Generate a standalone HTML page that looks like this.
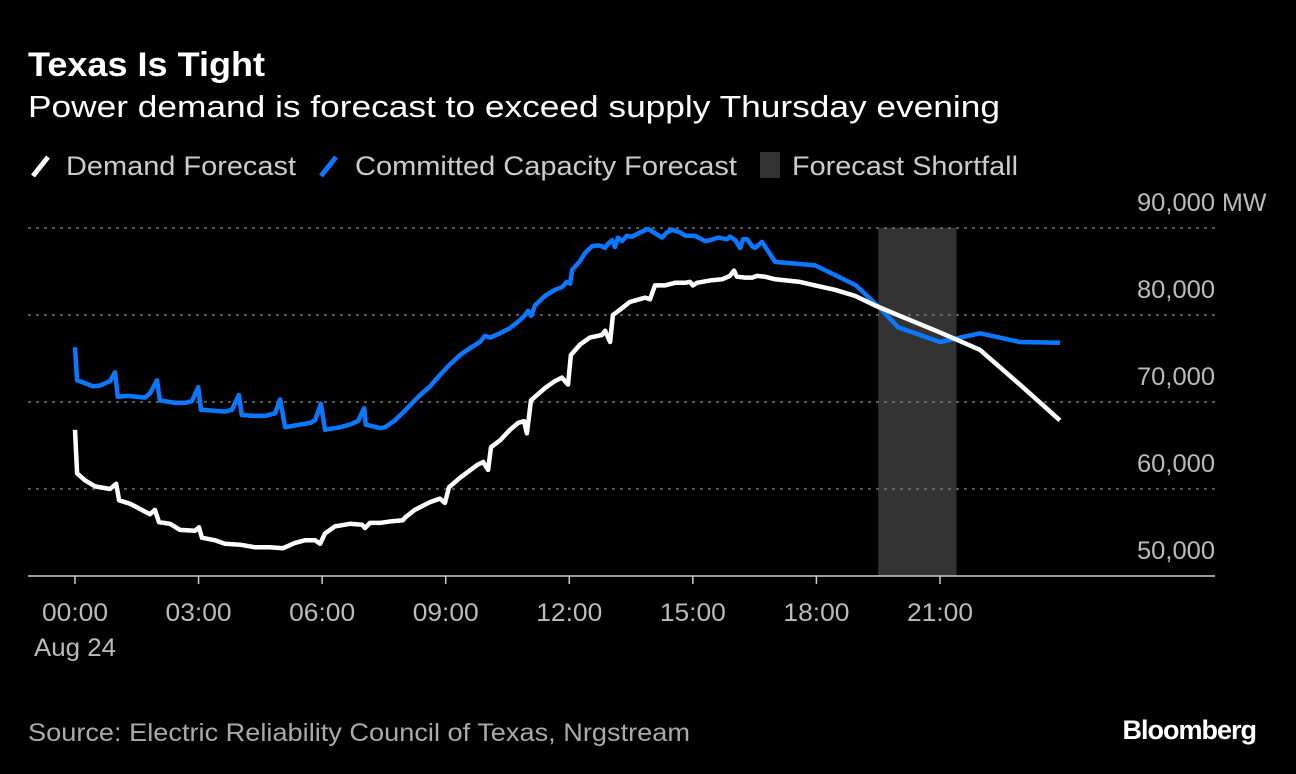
<!DOCTYPE html>
<html><head><meta charset="utf-8"><style>
body{margin:0;background:#000;width:1296px;height:774px;overflow:hidden;font-family:"Liberation Sans",sans-serif;color:#fff}
svg{position:absolute;left:0;top:0}
</style></head><body>
<svg width="1296" height="774">
<text x="28" y="76" font-size="34" font-weight="bold" fill="#fff" textLength="237" lengthAdjust="spacingAndGlyphs">Texas Is Tight</text>
<text x="28" y="117" font-size="31" fill="#fff" textLength="972" lengthAdjust="spacingAndGlyphs">Power demand is forecast to exceed supply Thursday evening</text>
<g>
<line x1="33" y1="176" x2="48" y2="157" stroke="#fff" stroke-width="5"/>
<text x="66" y="175" font-size="27" fill="#ccc" textLength="230" lengthAdjust="spacingAndGlyphs">Demand Forecast</text>
<line x1="321" y1="176" x2="336" y2="157" stroke="#0a78ff" stroke-width="5"/>
<text x="355" y="175" font-size="27" fill="#ccc" textLength="382" lengthAdjust="spacingAndGlyphs">Committed Capacity Forecast</text>
<rect x="760" y="152" width="20" height="26" fill="#333"/>
<text x="792" y="175" font-size="27" fill="#ccc" textLength="226" lengthAdjust="spacingAndGlyphs">Forecast Shortfall</text>
</g>
<g id="plot"></g>
<text x="28" y="741" font-size="25" fill="#aaa" textLength="662" lengthAdjust="spacingAndGlyphs">Source: Electric Reliability Council of Texas, Nrgstream</text>
<text x="1256" y="739" font-size="27" font-weight="bold" fill="#fff" text-anchor="end" letter-spacing="-1">Bloomberg</text>
</svg>
<script>
const yTicks=[50000,60000,70000,80000,90000];
const yTickLabels=["50,000","60,000","70,000","80,000","90,000"];
const xTicks=[0,3,6,9,12,15,18,21];
const xTickLabels=["00:00","03:00","06:00","09:00","12:00","15:00","18:00","21:00"];
const shortfall=[19.5,21.4];
const demandHours=[0,0.05,0.24,0.49,0.85,1.0,1.07,1.34,1.70,1.82,1.94,2.04,2.31,2.55,2.91,3.01,3.08,3.40,3.64,4.01,4.37,4.73,5.05,5.34,5.58,5.83,5.95,6.07,6.31,6.68,6.97,7.04,7.16,7.40,7.70,7.96,8.01,8.25,8.62,8.86,8.98,9.08,9.35,9.78,9.91,10.03,10.10,10.32,10.56,10.76,10.90,10.97,11.07,11.41,11.65,11.82,11.97,12.04,12.26,12.50,12.79,12.87,12.99,13.06,13.23,13.47,13.84,13.96,14.08,14.32,14.57,14.81,14.93,15.00,15.10,15.46,15.71,15.90,16.00,16.07,16.27,16.44,16.56,16.75,17.0,17.60,17.97,18.45,18.94,19.42,20.03,21.0,21.97,22.94,23.91];
const demandMW=[66.8,61.8,61.0,60.3,60.0,60.6,58.7,58.3,57.4,57.1,57.6,56.2,56.0,55.3,55.2,55.6,54.4,54.1,53.7,53.6,53.3,53.3,53.2,53.8,54.1,54.1,53.7,54.9,55.7,56.0,55.9,55.5,56.1,56.1,56.3,56.4,56.7,57.6,58.5,58.9,58.4,60.2,61.3,62.8,63.1,62.2,64.8,65.6,66.8,67.6,67.8,66.4,70.2,71.6,72.4,72.8,72.0,75.4,76.6,77.4,77.7,78.2,76.9,80.0,80.6,81.5,82.0,81.8,83.4,83.4,83.7,83.7,83.8,83.4,83.7,84.0,84.1,84.5,85.1,84.4,84.3,84.3,84.5,84.4,84.1,83.8,83.4,82.9,82.2,81.1,79.9,78.0,76.0,72.0,67.9];
const capHours=[0,0.05,0.17,0.44,0.61,0.85,0.97,1.04,1.29,1.70,1.82,1.99,2.06,2.43,2.67,2.84,2.99,3.06,3.40,3.64,3.81,3.98,4.05,4.37,4.61,4.86,4.98,5.10,5.46,5.71,5.83,5.97,6.07,6.44,6.68,6.87,7.02,7.06,7.40,7.53,7.77,8.01,8.25,8.38,8.62,8.86,9.10,9.35,9.59,9.83,9.95,10.08,10.32,10.56,10.80,10.93,11.00,11.07,11.17,11.41,11.65,11.82,11.94,12.02,12.07,12.26,12.38,12.55,12.70,12.79,12.87,12.94,13.04,13.11,13.18,13.28,13.40,13.52,13.60,13.72,13.91,14.08,14.25,14.37,14.49,14.69,14.83,15.05,15.30,15.42,15.61,15.83,15.90,16.03,16.15,16.22,16.32,16.44,16.51,16.68,17.00,17.97,18.45,18.96,19.54,19.98,21.00,21.97,22.94,23.91];
const capMW=[76.3,72.5,72.3,71.8,71.9,72.4,73.4,70.6,70.7,70.5,71.0,72.5,70.2,69.9,69.9,70.1,71.7,69.1,69.0,68.9,69.1,70.8,68.5,68.4,68.4,68.7,70.3,67.1,67.4,67.6,67.9,69.8,66.8,67.1,67.4,67.8,69.3,67.4,67.0,67.1,67.9,69.0,70.2,70.8,71.8,73.1,74.3,75.4,76.2,76.9,77.6,77.4,77.9,78.5,79.4,80.0,80.5,79.9,81.1,82.2,82.9,83.2,83.8,83.6,85.2,86.2,87.1,87.9,88.0,87.9,87.7,88.2,88.6,87.8,88.9,88.5,89.1,89.0,89.2,89.5,89.9,89.4,88.9,89.5,89.8,89.5,89.1,89.1,88.5,88.6,88.9,88.7,89.0,88.6,87.7,88.7,88.7,87.9,87.7,88.4,86.1,85.7,84.6,83.4,80.8,78.6,76.9,77.9,76.9,76.8];

const NS="http://www.w3.org/2000/svg";
const plot=document.getElementById('plot');
function xs(h){return 75+h*41.19;}
function ys(v){return 576-(v-50000)*0.0087;}
function mk(tag,attrs){const e=document.createElementNS(NS,tag);for(const k in attrs)e.setAttribute(k,attrs[k]);plot.appendChild(e);return e;}

const sf=mk('rect',{x:xs(shortfall[0]),y:ys(90000),width:xs(shortfall[1])-xs(shortfall[0]),height:ys(50000)-ys(90000),fill:'#333'});



yTicks.forEach((v,i)=>{
  if(i>0){
    const g=mk('line',{x1:28,x2:1215,y1:ys(v),y2:ys(v),stroke:'#777','stroke-width':1.5,'stroke-dasharray':'3,5'});
    
    
  }
  const t=mk('text',{x:1215,y:ys(v)-17,'font-size':25,fill:'#bbb','text-anchor':'end',textLength:78,lengthAdjust:'spacingAndGlyphs'});
  t.textContent=yTickLabels[i];
  
  
  if(i===yTicks.length-1){
    const u=mk('text',{x:1222,y:ys(v)-17,'font-size':25,fill:'#bbb'});
    u.textContent='MW';
    
    
  }
});
const base=mk('line',{x1:28,x2:1215,y1:576,y2:576,stroke:'#ccc','stroke-width':1.5});


xTicks.forEach((h,i)=>{
  const tk=mk('line',{x1:xs(h),x2:xs(h),y1:576,y2:584,stroke:'#ccc','stroke-width':1.5});
  
  
  const t=mk('text',{x:xs(h),y:621,'font-size':25,fill:'#bbb','text-anchor':'middle',textLength:66,lengthAdjust:'spacingAndGlyphs'});
  t.textContent=xTickLabels[i];
  
  
});
const d=mk('text',{x:xs(0),y:656,'font-size':25,fill:'#bbb','text-anchor':'middle',textLength:82,lengthAdjust:'spacingAndGlyphs'});
d.textContent='Aug 24';



function path(hs,vs){return hs.map((h,i)=>(i?'L':'M')+xs(h).toFixed(1)+','+ys(vs[i]*1000).toFixed(1)).join('');}
const cap=mk('path',{d:path(capHours,capMW),fill:'none',stroke:'#0a78ff','stroke-width':4.5,'stroke-linejoin':'round'});


const dem=mk('path',{d:path(demandHours,demandMW),fill:'none',stroke:'#fff','stroke-width':4.5,'stroke-linejoin':'round'});


</script>
</body></html>
